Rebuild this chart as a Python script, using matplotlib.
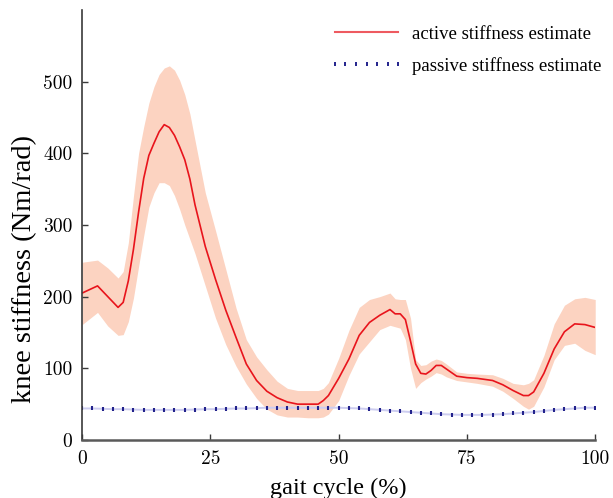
#!/usr/bin/env python3
# -*- coding: utf-8 -*-

"""
knee stiffness over the gait cycle: active estimate with band, passive estimate
"""

import matplotlib
matplotlib.use('Agg')
import matplotlib.pyplot as plt
from matplotlib.lines import Line2D

# active stiffness estimate (mean and band)
gait = [0, 3, 5, 7, 8, 9, 10, 11, 12, 13, 14, 15, 16, 17, 18, 19, 20, 21, 22, 24,
        26, 28, 30, 32, 34, 36, 38, 40, 42, 44, 46, 47, 48, 50, 52, 54, 56, 58, 60,
        61, 62, 63, 64, 65, 66, 67, 68, 69, 70, 71, 73, 75, 77, 80, 82, 84, 86, 87,
        88, 90, 92, 94, 96, 98, 100]
active_mean = [205, 215, 200, 185, 192, 222, 266, 318, 365, 397, 414, 430, 440, 436,
               425, 409, 391, 364, 328, 270, 224, 181, 143, 106, 83, 68, 59, 53, 50,
               50, 50, 55, 62, 86, 113, 146, 164, 174, 182, 176, 176, 168, 138, 106,
               93, 92, 97, 104, 104, 99, 89, 87, 86, 83, 77, 69, 62, 62, 67, 93, 127,
               151, 162, 161, 157]
active_upper = [248, 251, 240, 226, 235, 275, 340, 400, 437, 470, 493, 510, 519, 522,
                516, 502, 482, 455, 418, 345, 292, 238, 184, 140, 116, 98, 82, 72, 69,
                69, 69, 72, 80, 114, 153, 185, 196, 200, 205, 197, 196, 196, 170, 112,
                104, 105, 110, 113, 111, 106, 95, 93, 92, 91, 86, 79, 77, 79, 84, 118,
                162, 188, 197, 199, 196]
active_lower = [161, 178, 159, 146, 147, 165, 198, 242, 285, 325, 345, 359, 359, 355,
                341, 322, 300, 280, 260, 215, 170, 133, 103, 78, 58, 43, 35, 32, 32,
                31, 31, 32, 36, 55, 90, 120, 137, 154, 160, 158, 156, 140, 100, 72,
                80, 85, 89, 94, 92, 88, 83, 81, 79, 75, 68, 58, 47, 43, 47, 74, 112,
                132, 135, 125, 119]

# passive stiffness estimate, every 2 % of the gait cycle
gait_passive = list(range(0, 101, 2))
passive = [44, 44, 43.5, 43, 43, 42.5, 42, 42, 42, 42, 42, 42.5, 43, 43, 43.5, 44,
           44, 44.5, 45, 45, 45, 45, 45, 45, 45, 45, 44.5, 44, 43, 42, 41, 40, 39,
           38, 37, 36, 35.5, 35, 35, 35, 35.5, 36, 37, 38, 39, 40.5, 42, 43, 44, 45,
           45]

red = '#e8141c'
band = '#fcd3c1'
navy = '#23238c'
lavender = '#cdcdf0'


def main():
    fig = plt.figure(figsize=(6.13, 4.98), dpi=100)
    ax = fig.add_axes([0.134, 0.1165, 0.837, 0.8635])

    ax.fill_between(gait, active_lower, active_upper, color=band, lw=0)
    ax.plot(gait, active_mean, color=red, lw=1.2)

    ax.plot(gait_passive, passive, color=lavender, lw=1.4)
    ax.plot(gait_passive, passive, ls='none', marker='|', ms=3.2, mew=1.5, color=navy)

    ax.set_xlim(0, 100)
    ax.set_ylim(0, 600)
    ax.set_xticks([0, 25, 50, 75, 100])
    ax.set_yticks([0, 100, 200, 300, 400, 500])

    for s in ['top', 'right']:
        ax.spines[s].set_visible(False)
    ax.spines['left'].set_color('#3a3a3a')
    ax.spines['left'].set_linewidth(1.2)
    ax.spines['bottom'].set_color('#5a5a5a')
    ax.spines['bottom'].set_linewidth(1.8)

    ax.tick_params(direction='in', length=4, width=1, colors='#3a3a3a',
                   labelcolor='black', labelsize=14, pad=7)
    for lab in ax.get_xticklabels() + ax.get_yticklabels():
        lab.set_fontfamily('cmr10')

    ax.set_xlabel('gait cycle (%)', fontsize=17.5, family='Liberation Serif', labelpad=7)
    ax.set_ylabel('knee stiffness (Nm/rad)', fontsize=20.5, family='Liberation Serif')
    ax.yaxis.set_label_coords(-0.088, 0.398)

    handles = [Line2D([], [], color='#ee5a60', lw=1.5),
               Line2D([], [], ls='none', marker='|', ms=3, mew=1.4, color=navy)]
    ax.legend(handles, ['active stiffness estimate', 'passive stiffness estimate'],
              loc='upper right', frameon=False, numpoints=7, handlelength=4.0,
              handletextpad=0.4, labelspacing=0.75,
              prop={'family': 'Liberation Serif', 'size': 13.5},
              bbox_to_anchor=(1.044, 1.003))

    fig.savefig('out.png', dpi=100)
    return 0


if __name__ == "__main__":
    main()
